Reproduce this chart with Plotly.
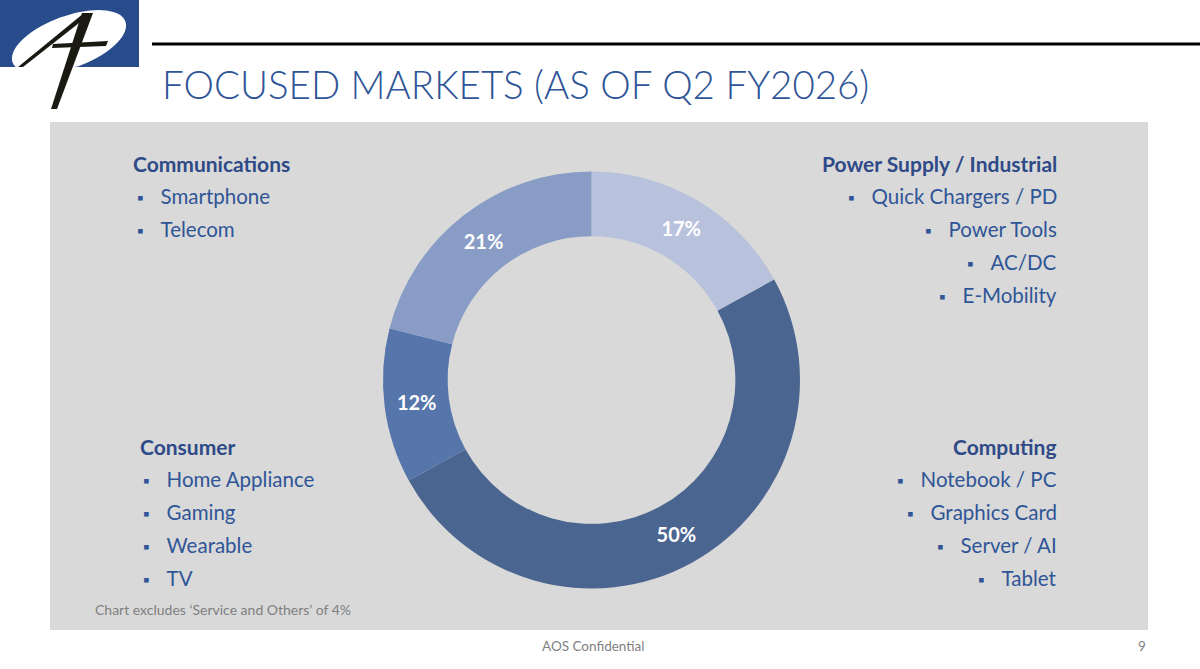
import math
import plotly.graph_objects as go

W, H = 1200, 669

# ---- data ----
segments = ["Power Supply / Industrial", "Computing", "Consumer", "Communications"]
shares = [17, 50, 12, 21]
seg_colors = ["#B8C2DC", "#4A6590", "#5676AB", "#889CC5"]

comm_items = ["Smartphone", "Telecom"]
power_items = ["Quick Chargers / PD", "Power Tools", "AC/DC", "E-Mobility"]
consumer_items = ["Home Appliance", "Gaming", "Wearable", "TV"]
computing_items = ["Notebook / PC", "Graphics Card", "Server / AI", "Tablet"]

title_text = "FOCUSED MARKETS (AS OF Q2 FY2026)"
note_text = "Chart excludes \u2018Service and Others\u2019 of 4%"
footer_text = "AOS Confidential"
page_no = "9"

FONT = "Lato"
BLUE = "#2F5597"
HEAD = "#2E4A87"


def px(x):
    return x / W


def py(y):
    return 1 - y / H


def path(points):
    s = "M " + " L ".join(f"{px(x):.5f},{py(y):.5f}" for x, y in points) + " Z"
    return s


fig = go.Figure()

fig.add_trace(go.Pie(
    labels=segments,
    values=shares,
    text=[f"{v}%" for v in shares],
    textinfo="text",
    textposition="inside",
    insidetextorientation="horizontal",
    textfont=dict(family=FONT, size=20, color="white", weight="bold"),
    marker=dict(colors=seg_colors, line=dict(width=0)),
    hole=0.69,
    sort=False,
    direction="clockwise",
    rotation=0,
    showlegend=False,
    hoverinfo="label+percent",
    domain=dict(x=[px(383), px(800)], y=[py(589), py(171)]),
))

shapes = []
# gray panel
shapes.append(dict(type="rect", xref="paper", yref="paper",
                   x0=px(50), x1=px(1148), y0=py(630), y1=py(122),
                   fillcolor="#D9D9D9", line=dict(width=0), layer="below"))
# top rule
shapes.append(dict(type="line", xref="paper", yref="paper",
                   x0=px(152), x1=1, y0=py(44), y1=py(44),
                   line=dict(color="black", width=3)))
# logo: blue block
shapes.append(dict(type="rect", xref="paper", yref="paper",
                   x0=0, x1=px(139), y0=py(67), y1=1,
                   fillcolor="#284B8C", line=dict(width=0)))
# logo: white tilted ellipse (clipped to the block)
ell = []
cx, cy, a, b, th = 69, 42, 60, 26, math.radians(-20)
for i in range(72):
    t = 2 * math.pi * i / 72
    ex = a * math.cos(t)
    ey = b * math.sin(t)
    x = cx + ex * math.cos(th) - ey * math.sin(th)
    y = cy + ex * math.sin(th) + ey * math.cos(th)
    ell.append((max(0, min(139, x)), max(0, min(67, y))))
shapes.append(dict(type="path", xref="paper", yref="paper", path=path(ell),
                   fillcolor="white", line=dict(width=0)))
# logo: black "A" strokes
shapes.append(dict(type="path", xref="paper", yref="paper",
                   path=path([(18, 67), (23, 67), (88, 16), (84, 13)]),
                   fillcolor="#1A1A12", line=dict(width=0)))
shapes.append(dict(type="path", xref="paper", yref="paper",
                   path=path([(82, 13), (93, 13), (57, 109), (51, 109)]),
                   fillcolor="#1A1A12", line=dict(width=0)))
shapes.append(dict(type="path", xref="paper", yref="paper",
                   path=path([(53, 44), (108, 41), (106, 46), (52, 48)]),
                   fillcolor="#1A1A12", line=dict(width=0)))

annotations = []


def txt(x, y, s, size, color, anchor="left", bold=False, family=FONT):
    annotations.append(dict(
        x=px(x), y=py(y), xref="paper", yref="paper", text=s, showarrow=False,
        xanchor=anchor, yanchor="middle",
        font=dict(family=family, size=size, color=color,
                  weight="bold" if bold else "normal")))


# title
annotations.append(dict(x=px(160), y=py(84), xref="paper", yref="paper",
                        text=title_text, showarrow=False, xanchor="left", yanchor="middle",
                        font=dict(family=FONT, size=38.5, color=BLUE, weight=300)))

BUL = "\u25AA"
SP = "\u2003\u200A"


def group(x, y0, head, items, anchor, head_x=None):
    txt(head_x if head_x is not None else x, y0, head, 21, HEAD, anchor, bold=True)
    for i, it in enumerate(items):
        yy = y0 + 33 * (i + 1)
        txt(x, yy, f"<span style='font-size:17px'>{BUL}</span>{SP}{it}", 20.5, BLUE, anchor)


group(135, 163, segments[3], comm_items, "left", head_x=131)
group(1059, 163, segments[0], power_items, "right")
group(141, 446, segments[2], consumer_items, "left", head_x=138)
group(1059, 446, segments[1], computing_items, "right")

txt(93, 609, note_text, 14, "#7F7F7F")
txt(593, 646, footer_text, 13.5, "#7F7F7F", anchor="center")
txt(1148, 646, page_no, 13.5, "#7F7F7F", anchor="right")

fig.update_layout(
    width=W, height=H,
    margin=dict(l=0, r=0, t=0, b=0),
    paper_bgcolor="white", plot_bgcolor="white",
    shapes=shapes, annotations=annotations,
    uniformtext=dict(minsize=20, mode="show"),
)

fig.write_html("out.html", config={"displayModeBar": False},
               post_script="document.body.style.margin='0';document.body.style.padding='0';")
